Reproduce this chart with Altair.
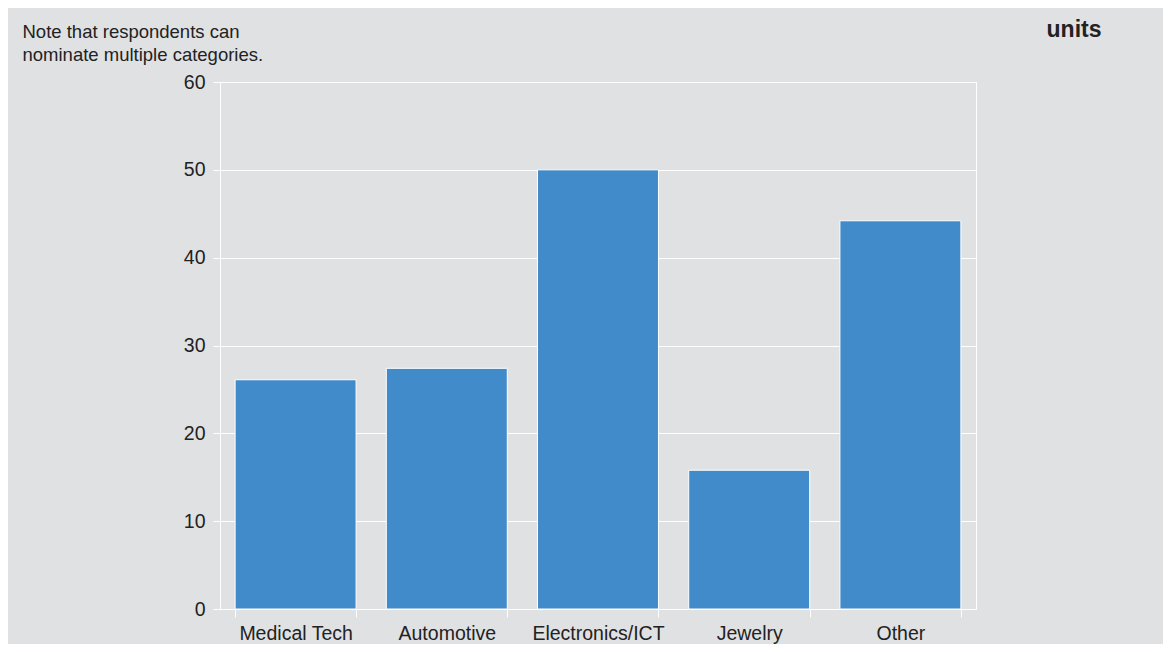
import altair as alt
import pandas as pd

categories = ["Medical Tech", "Automotive", "Electronics/ICT", "Jewelry", "Other"]
values = [26.1, 27.4, 50.0, 15.8, 44.2]
y_ticks = [0, 10, 20, 30, 40, 50, 60]
note_lines = ["Note that respondents can", "nominate multiple categories."]
unit_label = "units"

df = pd.DataFrame({"category": categories, "value": values})

FONT = "Liberation Sans"
TXT = "#222222"

chart = (
    alt.Chart(df)
    .mark_bar(color="#428bca", stroke="white", strokeWidth=1)
    .encode(
        x=alt.X(
            "category:N",
            sort=categories,
            scale=alt.Scale(paddingInner=0.2, paddingOuter=0.1),
            axis=alt.Axis(
                title=unit_label,
                titleX=853.5,
                titleY=-572.3,
                titleAlign="center",
                titleBaseline="alphabetic",
                titleFontSize=23,
                titleFontWeight="bold",
                titleColor=TXT,
                titleFont=FONT,
                labelAngle=0,
                labelFontSize=19.5,
                labelColor=TXT,
                labelFont=FONT,
                labelPadding=7,
                tickColor="white",
                tickSize=8,
                tickBand="extent",
                domain=False,
                grid=False,
            ),
        ),
        y=alt.Y(
            "value:Q",
            scale=alt.Scale(domain=[0, 60], nice=False),
            axis=alt.Axis(
                values=y_ticks,
                title=note_lines,
                titleAngle=0,
                titleX=-198,
                titleY=-44.7,
                titleAlign="left",
                titleBaseline="alphabetic",
                titleFontSize=18.5,
                titleFontWeight="normal",
                titleColor=TXT,
                titleFont=FONT,
                titleLineHeight=23,
                labelFontSize=19.5,
                labelColor=TXT,
                labelFont=FONT,
                labelPadding=8,
                tickColor="white",
                tickSize=7,
                domain=False,
                gridColor="white",
                gridWidth=1,
            ),
        ),
    )
    .properties(
        width=756,
        height=527,
        background="#e0e1e3",
        padding={"left": 212, "top": 74, "right": 187, "bottom": 35},
        autosize=alt.AutoSizeParams(type="none"),
    )
    .configure_view(stroke="white", strokeWidth=1)
)

chart.save("out.html", embed_options={"renderer": "svg", "actions": False})
